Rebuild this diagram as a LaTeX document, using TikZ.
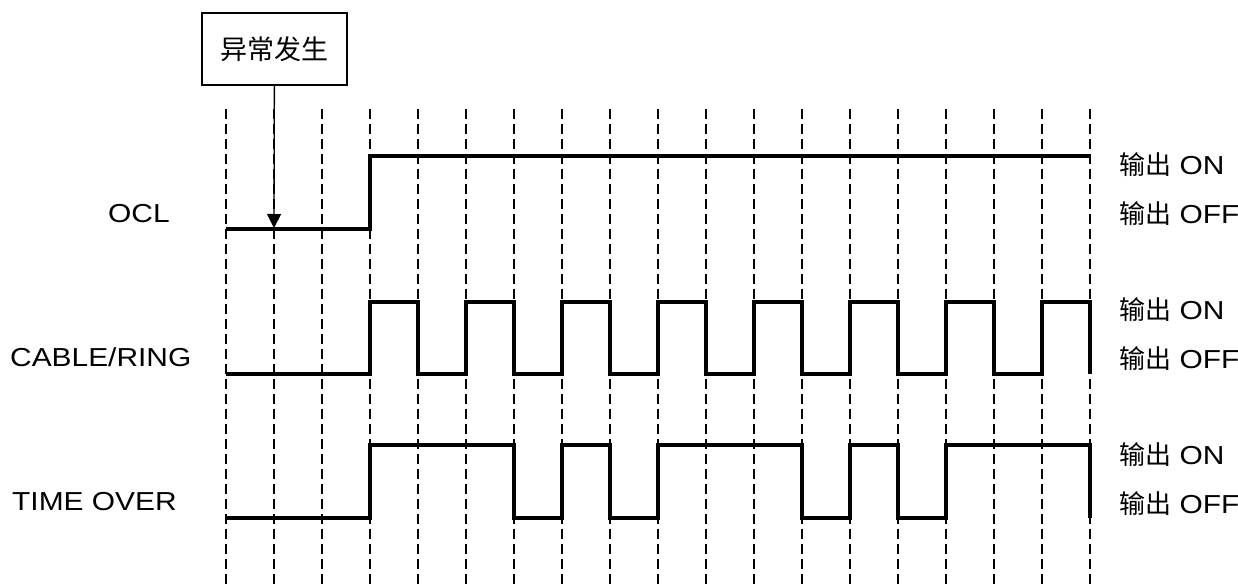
\documentclass[tikz,border=0pt]{standalone}
\usepackage{fontspec}
\setmainfont{Liberation Sans}[FakeStretch=1.15]
\newfontfamily\cjk{Noto Sans CJK SC}
\usepackage{tikz}
\usetikzlibrary{arrows.meta, positioning}

\begin{document}
\begin{tikzpicture}[
  x=1pt, y=-1pt, font=\fontsize{26}{30}\selectfont,
  grid/.style={draw=black, line width=1.3pt, dash pattern=on 10pt off 5pt},
  sig/.style={draw=black, line width=4pt},
  evbox/.style={draw=black, line width=1.3pt, minimum width=145pt, minimum height=72pt,
                inner sep=0pt, font=\cjk\fontsize{27}{31}\selectfont},
  lbl/.style={anchor=west, inner sep=0pt},
  lvl/.style={anchor=west, inner sep=0pt},
  arr/.style={-{Triangle[length=14pt, width=14pt]}, draw=black, line width=1.3pt},
]
\useasboundingbox (0,0) rectangle (1238,588);

% time grid
\foreach \k in {0,...,18}
  \draw[grid] (226+48*\k,109) -- (226+48*\k,588);

% event
\node[evbox] (ev) at (274.5,49) {异常发生};
\coordinate (evhit) at (274,228);
\draw[arr] (ev) -- (evhit);

% signal names
\node[lbl] (ocl) at (108,214) {OCL};
\node[lbl] (cable) at (10,357) {CABLE/RING};
\node[lbl] (tover) at (12,502) {TIME OVER};

% OCL
\draw[sig] (226,229) -- (370,229) -- (370,156) -- (1090,156);

% CABLE/RING
\draw[sig] (226,374) -- (370,374)
  \foreach \i in {1,...,7} { -- ++(0,-72) -- ++(48,0) -- ++(0,72) -- ++(48,0) }
  -- ++(0,-72) -- ++(48,0) -- ++(0,72);

% TIME OVER
\draw[sig] (226,518) -- (370,518) -- ++(0,-73) -- (514,445) -- ++(0,73)
  -- (562,518) -- ++(0,-73) -- (610,445) -- ++(0,73)
  -- (658,518) -- ++(0,-73) -- (802,445) -- ++(0,73)
  -- (850,518) -- ++(0,-73) -- (898,445) -- ++(0,73)
  -- (946,518) -- ++(0,-73) -- (1090,445) -- ++(0,73);

% output levels
\foreach \y/\n in {165/a, 310/b, 455/c} {
  \node[lvl] (on\n) at (1119,\y) {{\cjk 输出} ON};
  \node[lvl, below=24pt of on\n.south west, anchor=north west] (off\n) {{\cjk 输出} OFF};
}
\end{tikzpicture}
\end{document}
